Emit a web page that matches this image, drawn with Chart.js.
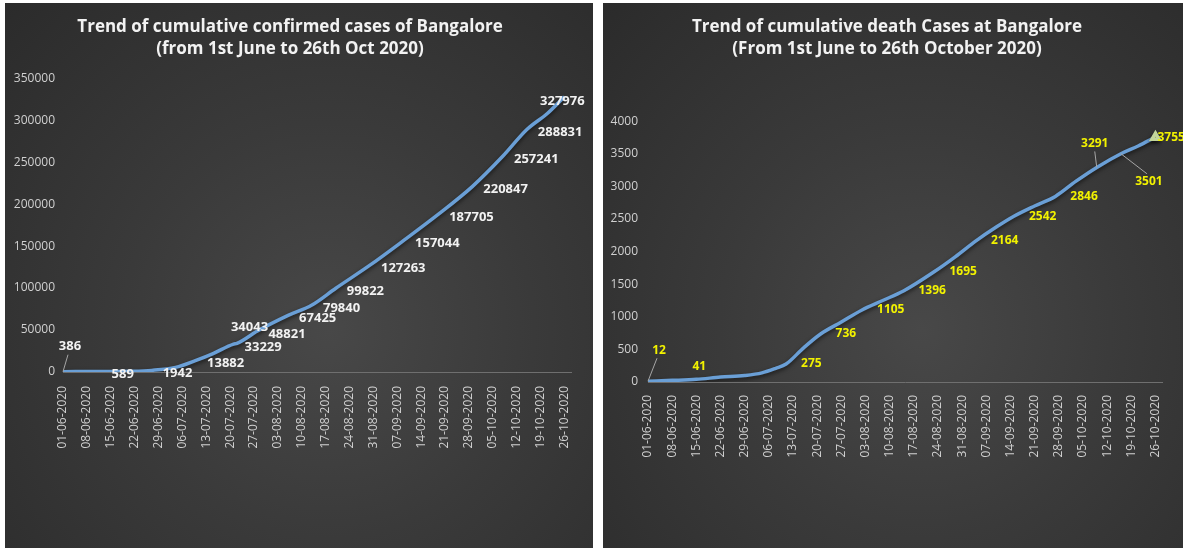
<!DOCTYPE html>
<html>
<head>
<meta charset="utf-8">
<script src="https://cdn.jsdelivr.net/npm/chart.js@4.4.1/dist/chart.umd.min.js"></script>
<style>
  body { margin: 0; background: #fff; width: 1186px; height: 548px; position: relative; overflow: hidden; }
  .panel { position: absolute; top: 3px; height: 545px;
    background: radial-gradient(ellipse at 55% 60%, #484848 0%, #3a3a3a 45%, #2b2b2b 100%); }
  #p1 { left: 5px; width: 588px; }
  #p2 { left: 603px; width: 580px; }
</style>
</head>
<body>
<div class="panel" id="p1"><canvas id="casesChart" width="588" height="545"></canvas></div>
<div class="panel" id="p2"><canvas id="deathChart" width="580" height="545"></canvas></div>
<script>
// weekly tick days (0 = 01-06-2020) and their labels
const tickDays = [0, 7, 14, 21, 28, 35, 42, 49, 56, 63, 70, 77, 84, 91, 98, 105, 112, 119, 126, 133, 140, 147];
const tickLabels = ['01-06-2020', '08-06-2020', '15-06-2020', '22-06-2020', '29-06-2020', '06-07-2020',
  '13-07-2020', '20-07-2020', '27-07-2020', '03-08-2020', '10-08-2020', '17-08-2020', '24-08-2020',
  '31-08-2020', '07-09-2020', '14-09-2020', '21-09-2020', '28-09-2020', '05-10-2020', '12-10-2020',
  '19-10-2020', '26-10-2020'];

// confirmed cases
const caseDays = [0, 11, 20, 26, 33, 39, 44, 50, 51, 57, 66, 73, 80, 90, 100, 110, 120, 129, 136, 142, 147];
const caseValues = [386, 589, 900, 1942, 5500, 13882, 22000, 33229, 34043, 48821, 67425, 79840, 99822,
  127263, 157044, 187705, 220847, 257241, 288831, 308000, 327976];
const caseLabelDays = [0, 11, 26, 39, 50, 51, 57, 66, 73, 80, 90, 100, 110, 120, 129, 136, 147];

// deaths
const deathDays = [0, 7, 14, 21, 28, 33, 37, 40, 45, 50, 56, 62, 68, 74, 83, 89, 95, 101, 106, 112, 118,
  124, 130, 137, 142, 147];
const deathValues = [12, 25, 41, 75, 100, 140, 210, 275, 520, 736, 920, 1105, 1250, 1396, 1695, 1920, 2164,
  2380, 2542, 2700, 2846, 3080, 3291, 3501, 3620, 3755];
const deathLabelDays = [0, 14, 40, 50, 62, 74, 83, 95, 106, 118, 130, 137, 147];

const pointLabels = {
  id: 'pointLabels',
  afterDatasetsDraw(chart, args, opts) {
    const meta = chart.getDatasetMeta(0);
    const ds = chart.data.datasets[0].data;
    const ctx = chart.ctx;
    ctx.save();
    ctx.font = opts.font;
    ctx.textBaseline = 'middle';
    opts.days.forEach(d => {
      const i = ds.findIndex(p => p.x === d);
      const pt = meta.data[i];
      const p = opts.place[d] || opts.dflt;
      const tx = pt.x + p.dx, ty = pt.y + p.dy;
      if (p.leader) {
        ctx.strokeStyle = '#a6a6a6';
        ctx.lineWidth = 1;
        ctx.beginPath();
        ctx.moveTo(pt.x, pt.y);
        ctx.lineTo(tx - (p.dx > 0 ? 2 : 0), ty + (p.dy < 0 ? 8 : -8));
        ctx.stroke();
      }
      ctx.textAlign = p.align || 'left';
      ctx.fillStyle = opts.color;
      ctx.fillText(String(ds[i].y), tx, ty);
    });
    ctx.restore();
  }
};

const lineShadow = {
  id: 'lineShadow',
  beforeDatasetDraw(chart) {
    chart.ctx.save();
    chart.ctx.shadowColor = 'rgba(0,0,0,0.6)';
    chart.ctx.shadowBlur = 4;
    chart.ctx.shadowOffsetY = 2;
  },
  afterDatasetDraw(chart) { chart.ctx.restore(); }
};

function makeChart(id, days, values, cfg) {
  return new Chart(document.getElementById(id), {
    type: 'line',
    data: {
      datasets: [{
        data: days.map((d, i) => ({ x: d, y: values[i] })),
        borderColor: '#6a9fd6',
        borderWidth: 3.5,
        cubicInterpolationMode: 'monotone',
        pointRadius: ctx => (cfg.endMarker && ctx.dataIndex === days.length - 1) ? 4 : 0,
        pointStyle: 'triangle',
        pointBackgroundColor: '#c3d69b',
        pointBorderColor: '#c3d69b'
      }]
    },
    plugins: [lineShadow, pointLabels],
    options: {
      responsive: false,
      animation: false,
      layout: { padding: { left: 0, right: cfg.padRight, top: 0, bottom: 0 } },
      plugins: {
        legend: { display: false },
        tooltip: { enabled: false },
        title: {
          display: true,
          text: cfg.title,
          color: '#f2f2f2',
          font: { family: 'Open Sans', size: 17, weight: 'bold', lineHeight: 1.3 },
          padding: { top: 13, bottom: cfg.titleGap }
        },
        pointLabels: cfg.labels
      },
      scales: {
        x: {
          type: 'linear',
          min: 0,
          max: 149,
          afterBuildTicks: s => { s.ticks = tickDays.map(v => ({ value: v })); },
          afterFit: s => { s.height = cfg.xHeight; },
          grid: { display: false, drawTicks: false },
          border: { color: '#6f6f6f' },
          ticks: {
            autoSkip: false, maxRotation: 90, minRotation: 90, padding: cfg.xPad,
            color: '#d0d0d0', font: { family: 'Open Sans', size: 12 },
            callback: v => tickLabels[tickDays.indexOf(v)]
          }
        },
        y: {
          min: 0,
          max: cfg.yMax,
          afterFit: s => { s.width = cfg.yWidth; },
          grid: { display: false, drawTicks: false },
          border: { display: false },
          ticks: {
            stepSize: cfg.yStep, padding: cfg.yPad,
            color: '#d0d0d0', font: { family: 'Open Sans', size: 12 },
            callback: v => String(v)
          }
        }
      }
    }
  });
}

makeChart('casesChart', caseDays, caseValues, {
  title: ['Trend of cumulative confirmed cases of Bangalore', '(from 1st June to 26th Oct 2020)'],
  titleGap: 18, padRight: 18, xHeight: 176, xPad: 14, yWidth: 58, yPad: 8, yMax: 350000, yStep: 50000,
  labels: {
    days: caseLabelDays, color: '#f2f2f2', font: 'bold 13px "Open Sans"',
    dflt: { dx: 11, dy: 3 },
    place: {
      0: { align: 'center', dx: 7, dy: -25, leader: true },
      51: { align: 'left', dx: -6, dy: -16 },
      147: { align: 'center', dx: -2, dy: 5 }
    }
  }
});

makeChart('deathChart', deathDays, deathValues, {
  title: ['Trend of cumulative death Cases at Bangalore', '(From 1st June to 26th October 2020)'],
  titleGap: 61, padRight: 12, xHeight: 166, xPad: 13, yWidth: 45, yPad: 10, yMax: 4000, yStep: 500, endMarker: true,
  labels: {
    days: deathLabelDays, color: '#f2f200', font: 'bold 12px "Open Sans"',
    dflt: { dx: 15, dy: 0 },
    place: {
      0: { align: 'center', dx: 11, dy: -31, leader: true },
      14: { align: 'center', dx: 3, dy: -13 },
      130: { align: 'center', dx: -2, dy: -24, leader: true },
      137: { align: 'center', dx: 28, dy: 28, leader: true },
      147: { align: 'left', dx: 2, dy: 0 }
    }
  }
});
</script>
</body>
</html>
